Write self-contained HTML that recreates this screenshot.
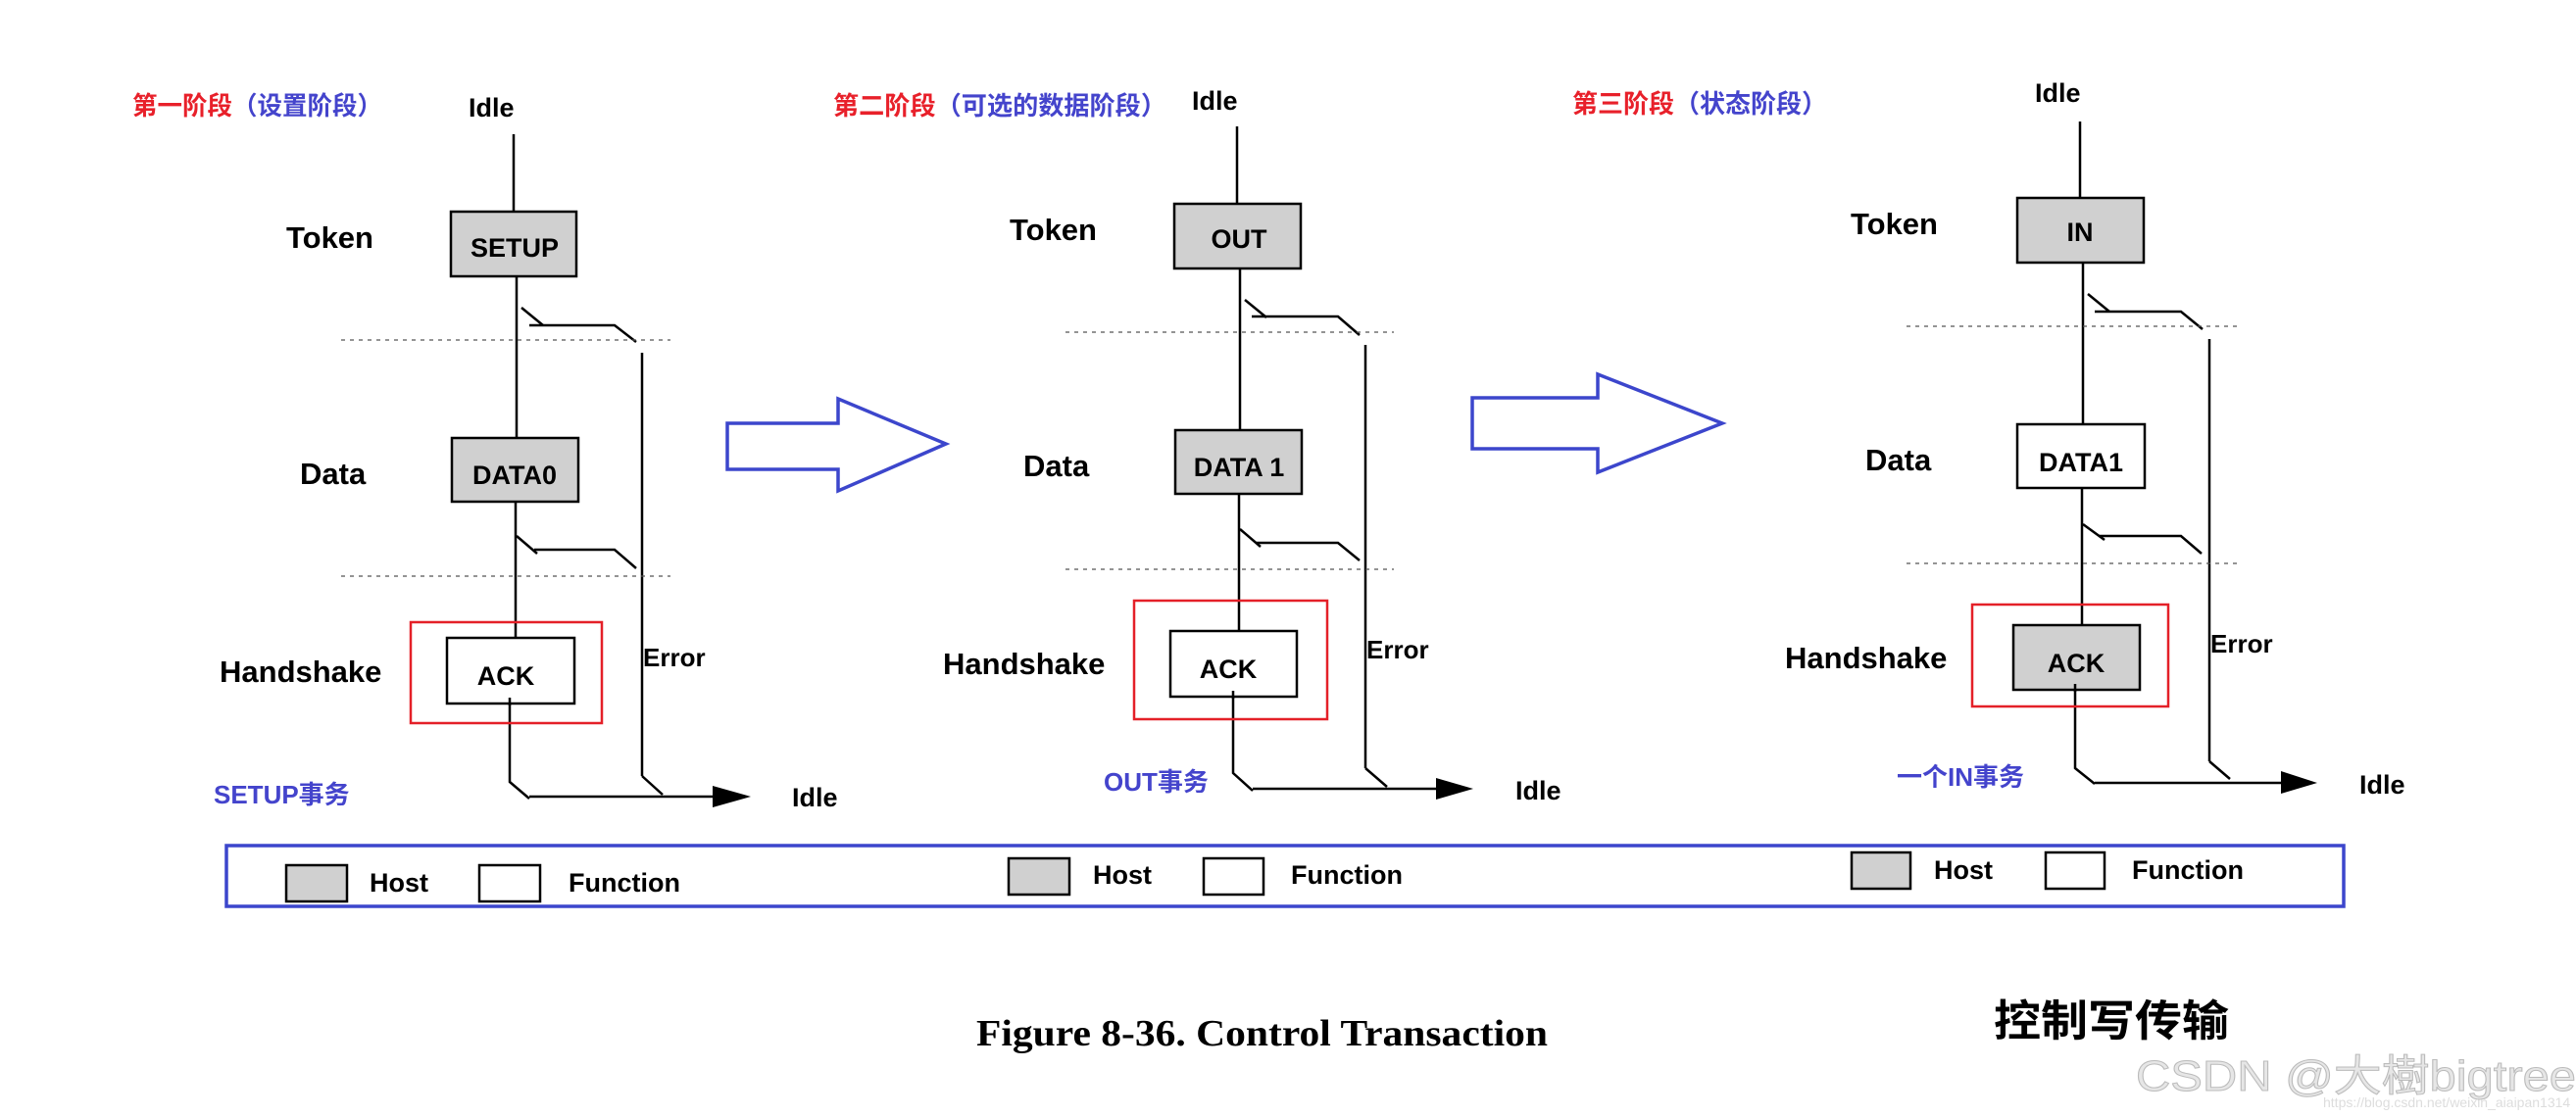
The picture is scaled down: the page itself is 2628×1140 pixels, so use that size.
<!DOCTYPE html>
<html><head><meta charset="utf-8"><style>
html,body{margin:0;padding:0;background:#fff;}
svg{display:block;}
text{font-family:"Liberation Sans","Noto Sans CJK SC",sans-serif;font-weight:bold;}
</style></head><body>
<svg width="2628" height="1140" viewBox="0 0 2628 1140" xmlns="http://www.w3.org/2000/svg">
<rect width="2628" height="1140" fill="#fff"/>

<!-- Titles -->
<text x="135" y="117" font-size="26" textLength="255" lengthAdjust="spacingAndGlyphs"><tspan fill="#e8202a">第一阶段</tspan><tspan fill="#4444cc">（设置阶段）</tspan></text>
<text x="850" y="117" font-size="26" textLength="340" lengthAdjust="spacingAndGlyphs"><tspan fill="#e8202a">第二阶段</tspan><tspan fill="#4444cc">（可选的数据阶段）</tspan></text>
<text x="1604" y="115" font-size="26" textLength="260" lengthAdjust="spacingAndGlyphs"><tspan fill="#e8202a">第三阶段</tspan><tspan fill="#4444cc">（状态阶段）</tspan></text>

<g stroke="#000" stroke-width="2.5" fill="none">
<!-- Panel 1 -->
<line x1="524" y1="137" x2="524" y2="216"/>
<line x1="527" y1="282" x2="527" y2="447"/>
<polyline points="532,314 554,332"/><polyline points="540,332 627,332 649,349"/>
<line x1="655" y1="360" x2="655" y2="792"/><line x1="655" y1="792" x2="676" y2="811"/>
<line x1="526" y1="512" x2="526" y2="651"/>
<polyline points="527,547 548,565"/><polyline points="545,561 627,561 649,580"/>
<polyline points="520,715 520,798 540,815"/>
<line x1="540" y1="813" x2="730" y2="813"/>
<!-- Panel 2 -->
<line x1="1262" y1="129" x2="1262" y2="208"/>
<line x1="1265" y1="274" x2="1265" y2="439"/>
<polyline points="1270,306 1292,324"/><polyline points="1277,323 1365,323 1387,342"/>
<line x1="1393" y1="352" x2="1393" y2="784"/><line x1="1393" y1="784" x2="1415" y2="803"/>
<line x1="1264" y1="504" x2="1264" y2="644"/>
<polyline points="1265,540 1286,558"/><polyline points="1282,554 1365,554 1387,572"/>
<polyline points="1258,707 1258,789 1278,807"/>
<line x1="1278" y1="805" x2="1468" y2="805"/>
<!-- Panel 3 -->
<line x1="2122" y1="124" x2="2122" y2="202"/>
<line x1="2125" y1="268" x2="2125" y2="433"/>
<polyline points="2130,300 2152,318"/><polyline points="2137,318 2225,318 2247,336"/>
<line x1="2254" y1="346" x2="2254" y2="777"/><line x1="2254" y1="777" x2="2275" y2="795"/>
<line x1="2124" y1="498" x2="2124" y2="638"/>
<polyline points="2125,535 2147,551"/><polyline points="2141,547 2225,547 2246,565"/>
<polyline points="2117,700 2117,784 2137,800"/>
<line x1="2137" y1="799" x2="2330" y2="799"/>
</g>
<!-- arrowheads -->
<polygon points="727,802 766,813 727,824" fill="#000"/>
<polygon points="1465,794 1503,805 1465,816" fill="#000"/>
<polygon points="2327,787 2364,799 2327,810" fill="#000"/>

<!-- dotted lines -->
<g stroke="#555" stroke-width="1.2" stroke-dasharray="4,5">
<line x1="348" y1="347" x2="684" y2="347"/><line x1="348" y1="588" x2="684" y2="588"/>
<line x1="1087" y1="339" x2="1422" y2="339"/><line x1="1087" y1="581" x2="1422" y2="581"/>
<line x1="1945" y1="333" x2="2283" y2="333"/><line x1="1945" y1="575" x2="2283" y2="575"/>
</g>

<!-- boxes -->
<g stroke="#000" stroke-width="2.5">
<rect x="460" y="216" width="128" height="66" fill="#d0d0d0"/>
<rect x="461" y="447" width="129" height="65" fill="#d0d0d0"/>
<rect x="456" y="651" width="130" height="67" fill="#fff"/>
<rect x="1198" y="208" width="129" height="66" fill="#d0d0d0"/>
<rect x="1199" y="439" width="129" height="65" fill="#d0d0d0"/>
<rect x="1194" y="644" width="129" height="67" fill="#fff"/>
<rect x="2058" y="202" width="129" height="66" fill="#d0d0d0"/>
<rect x="2058" y="433" width="130" height="65" fill="#fff"/>
<rect x="2054" y="638" width="129" height="66" fill="#d0d0d0"/>
</g>
<!-- redraw ack bottom lines over box -->
<g stroke="#000" stroke-width="2.5"><line x1="520" y1="712" x2="520" y2="720"/><line x1="1258" y1="705" x2="1258" y2="713"/><line x1="2117" y1="698" x2="2117" y2="706"/></g>
<!-- red boxes -->
<g stroke="#e42028" stroke-width="2.5" fill="none">
<rect x="419" y="635" width="195" height="103"/>
<rect x="1157" y="613" width="197" height="121"/>
<rect x="2012" y="617" width="200" height="104"/>
</g>

<!-- blue arrows -->
<g stroke="#3c46cc" stroke-width="3.5" fill="none" stroke-linejoin="miter">
<polygon points="742,432 855,432 855,407 965,453 855,501 855,479 742,479"/>
<polygon points="1502,406 1630,406 1630,382 1757,432 1630,482 1630,458 1502,458"/>
</g>

<!-- labels -->
<g font-size="27" fill="#000">
<text x="478" y="119">Idle</text>
<text x="1216" y="112">Idle</text>
<text x="2076" y="104">Idle</text>
<text x="808" y="823">Idle</text>
<text x="1546" y="816">Idle</text>
<text x="2407" y="810">Idle</text>
<text x="656" y="680" font-size="26">Error</text>
<text x="1394" y="672" font-size="26">Error</text>
<text x="2255" y="666" font-size="26">Error</text>
</g>
<g font-size="31" fill="#000">
<text x="292" y="253">Token</text>
<text x="306" y="494">Data</text>
<text x="224" y="696">Handshake</text>
<text x="1030" y="245">Token</text>
<text x="1044" y="486">Data</text>
<text x="962" y="688">Handshake</text>
<text x="1888" y="239">Token</text>
<text x="1903" y="480">Data</text>
<text x="1821" y="682">Handshake</text>
</g>
<g font-size="27" fill="#000" text-anchor="middle">
<text x="525" y="262">SETUP</text>
<text x="525" y="494">DATA0</text>
<text x="516" y="699">ACK</text>
<text x="1264" y="253">OUT</text>
<text x="1264" y="486">DATA 1</text>
<text x="1253" y="692">ACK</text>
<text x="2122" y="246">IN</text>
<text x="2123" y="481">DATA1</text>
<text x="2118" y="686">ACK</text>
</g>
<g font-size="26" fill="#4444cc">
<text x="218" y="820">SETUP事务</text>
<text x="1126" y="807">OUT事务</text>
<text x="1935" y="802">一个IN事务</text>
</g>

<!-- legend -->
<rect x="231" y="863" width="2160" height="62" fill="none" stroke="#3c46cc" stroke-width="3.5"/>
<g stroke="#000" stroke-width="2.5">
<rect x="292" y="883" width="62" height="37" fill="#d0d0d0"/>
<rect x="489" y="883" width="62" height="37" fill="#fff"/>
<rect x="1029" y="876" width="62" height="37" fill="#d0d0d0"/>
<rect x="1228" y="876" width="61" height="37" fill="#fff"/>
<rect x="1889" y="870" width="60" height="37" fill="#d0d0d0"/>
<rect x="2087" y="870" width="60" height="37" fill="#fff"/>
</g>
<g font-size="27" fill="#000">
<text x="377" y="910">Host</text><text x="580" y="910">Function</text>
<text x="1115" y="902">Host</text><text x="1317" y="902">Function</text>
<text x="1973" y="897">Host</text><text x="2175" y="897">Function</text>
</g>

<!-- caption -->
<text x="996" y="1067" font-size="38" textLength="583" lengthAdjust="spacingAndGlyphs" style="font-family:'Liberation Serif',serif;font-weight:bold">Figure 8-36.  Control  Transaction</text>
<text x="2034" y="1057" font-size="44" fill="#000" textLength="240" lengthAdjust="spacingAndGlyphs">控制写传输</text>
<text x="2179" y="1113" font-size="44" fill="#e6e6e6" stroke="#bbb" stroke-width="1" style="font-weight:normal" textLength="449" lengthAdjust="spacingAndGlyphs">CSDN @大樹bigtree</text>
<text x="2370" y="1130" font-size="14" fill="#ddd" style="font-weight:normal">https://blog.csdn.net/weixin_aiaipan1314</text>
</svg>
</body></html>
